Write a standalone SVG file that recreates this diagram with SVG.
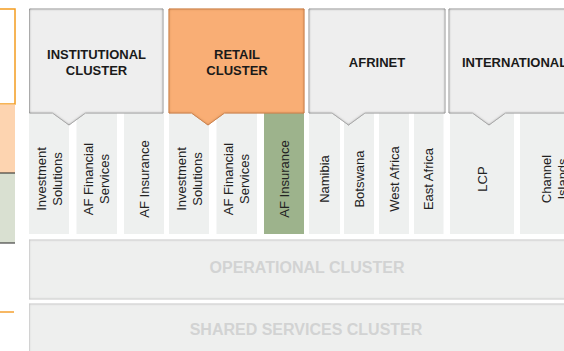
<svg xmlns="http://www.w3.org/2000/svg" width="564" height="351" viewBox="0 0 564 351">
  <defs>
    <style>
      .hdr { font-family: "Liberation Sans", Arial, sans-serif; font-weight: bold; font-size: 13px; fill: #1a1a1a; text-anchor: middle; }
      .lbl { font-family: "Liberation Sans", Arial, sans-serif; font-size: 13px; fill: #222; text-anchor: middle; }
      .ftr { font-family: "Liberation Sans", Arial, sans-serif; font-weight: bold; font-size: 16px; fill: #d2d3d3; text-anchor: middle; }
      .col { fill: #eef0ef; }
      .col-hi { fill: #9db38c; }
      .box { fill: #eeeeee; stroke: #c8c8c8; stroke-width: 1; }
      .box-hi { fill: #f9ae74; stroke: #dc945c; stroke-width: 1; }
      .band { fill: #eeefee; stroke: #dcdcdc; stroke-width: 1; }
    </style>
    <!-- inner bevel shadows -->
    <filter id="inset" x="-5%" y="-5%" width="110%" height="110%">
      <feFlood flood-color="#5f5f5f" result="c"/>
      <feComposite in="c" in2="SourceAlpha" operator="out" result="outside"/>
      <feGaussianBlur in="outside" stdDeviation="1.7" result="b"/>
      <feComposite in="b" in2="SourceAlpha" operator="in" result="shadow"/>
      <feComposite in="shadow" in2="SourceGraphic" operator="over"/>
    </filter>
    <filter id="inset-hi" x="-5%" y="-5%" width="110%" height="110%">
      <feFlood flood-color="#b0622a" result="c"/>
      <feComposite in="c" in2="SourceAlpha" operator="out" result="outside"/>
      <feGaussianBlur in="outside" stdDeviation="1.7" result="b"/>
      <feComposite in="b" in2="SourceAlpha" operator="in" result="shadow"/>
      <feComposite in="shadow" in2="SourceGraphic" operator="over"/>
    </filter>
    <filter id="inset-soft" x="-5%" y="-10%" width="110%" height="120%">
      <feFlood flood-color="#c0c0c0" result="c"/>
      <feComposite in="c" in2="SourceAlpha" operator="out" result="outside"/>
      <feGaussianBlur in="outside" stdDeviation="1.5" result="b"/>
      <feComposite in="b" in2="SourceAlpha" operator="in" result="shadow"/>
      <feComposite in="shadow" in2="SourceGraphic" operator="over"/>
    </filter>
  </defs>

  <rect width="564" height="351" fill="#ffffff"/>

  <!-- legend strip on the left edge -->
  <g id="legend">
    <rect x="-5" y="9" width="20" height="95" fill="#ffffff" stroke="#f39c1f" stroke-width="1.5"/>
    <rect x="0" y="104.5" width="15" height="68.5" fill="#fdd4b0"/>
    <rect x="0" y="173" width="15" height="70" fill="#d9e0d1"/>
    <line x1="0" y1="173" x2="15" y2="173" stroke="#222" stroke-width="1"/>
    <line x1="0" y1="243" x2="15" y2="243" stroke="#222" stroke-width="1"/>
    <line x1="0" y1="312" x2="14" y2="312" stroke="#f5a030" stroke-width="1.5"/>
  </g>

  <!-- business unit columns -->
  <g id="units">
    <g id="u-inst-invest"><rect class="col" x="29" y="113" width="40" height="121"/>
      <text class="lbl" transform="translate(49,179) rotate(-90)"><tspan x="0" y="-3.3">Investment</tspan><tspan x="0" y="12.7">Solutions</tspan></text></g>
    <g id="u-inst-afs"><rect class="col" x="76.5" y="113" width="40.5" height="121"/>
      <text class="lbl" transform="translate(96.75,179) rotate(-90)"><tspan x="0" y="-3.3">AF Financial</tspan><tspan x="0" y="12.7">Services</tspan></text></g>
    <g id="u-inst-afi"><rect class="col" x="124" y="113" width="40" height="121"/>
      <text class="lbl" transform="translate(144,179) rotate(-90)" y="4.7">AF Insurance</text></g>
    <g id="u-ret-invest"><rect class="col" x="169" y="113" width="40" height="121"/>
      <text class="lbl" transform="translate(189,179) rotate(-90)"><tspan x="0" y="-3.3">Investment</tspan><tspan x="0" y="12.7">Solutions</tspan></text></g>
    <g id="u-ret-afs"><rect class="col" x="216.5" y="113" width="40.5" height="121"/>
      <text class="lbl" transform="translate(236.75,179) rotate(-90)"><tspan x="0" y="-3.3">AF Financial</tspan><tspan x="0" y="12.7">Services</tspan></text></g>
    <g id="u-ret-afi"><rect class="col-hi" x="264" y="113" width="40" height="121"/>
      <text class="lbl" transform="translate(284,179) rotate(-90)" y="4.7">AF Insurance</text></g>
    <g id="u-namibia"><rect class="col" x="309" y="113" width="31" height="121"/>
      <text class="lbl" transform="translate(324.5,179) rotate(-90)" y="4.7">Namibia</text></g>
    <g id="u-botswana"><rect class="col" x="344" y="113" width="30" height="121"/>
      <text class="lbl" transform="translate(359,179) rotate(-90)" y="4.7">Botswana</text></g>
    <g id="u-west"><rect class="col" x="379" y="113" width="30" height="121"/>
      <text class="lbl" transform="translate(394,179) rotate(-90)" y="4.7">West Africa</text></g>
    <g id="u-east"><rect class="col" x="414" y="113" width="29.5" height="121"/>
      <text class="lbl" transform="translate(428.75,179) rotate(-90)" y="4.7">East Africa</text></g>
    <g id="u-lcp"><rect class="col" x="450" y="113" width="64" height="121"/>
      <text class="lbl" transform="translate(482,179) rotate(-90)" y="4.7">LCP</text></g>
    <g id="u-channel"><rect class="col" x="520" y="113" width="68" height="121"/>
      <text class="lbl" transform="translate(554.3,179) rotate(-90)"><tspan x="0" y="-3.3">Channel</tspan><tspan x="0" y="12.7">Islands</tspan></text></g>
  </g>

  <!-- cluster headers with pointers -->
  <g id="institutional">
    <path class="box" filter="url(#inset)" d="M29.5,9 H163 V113 H85.5 L69,125 L52.5,113 H29.5 Z"/>
    <text class="hdr" x="96.5" y="59">INSTITUTIONAL</text>
    <text class="hdr" x="96.5" y="75">CLUSTER</text>
  </g>
  <g id="retail">
    <path class="box-hi" filter="url(#inset-hi)" d="M169,9 H304 V113 H224.5 L208,125 L191.5,113 H169 Z"/>
    <text class="hdr" x="237" y="59">RETAIL</text>
    <text class="hdr" x="237" y="75">CLUSTER</text>
  </g>
  <g id="afrinet">
    <path class="box" filter="url(#inset)" d="M309,9 H445 V113 H365 L348.5,125 L332,113 H309 Z"/>
    <text class="hdr" x="377" y="67">AFRINET</text>
  </g>
  <g id="international">
    <path class="box" filter="url(#inset)" d="M449,9 H590 V113 H505.5 L489,125 L472.5,113 H449 Z"/>
    <text class="hdr" x="462" y="67" style="text-anchor:start">INTERNATIONAL</text>
  </g>

  <!-- support clusters -->
  <g id="operational">
    <rect class="band" filter="url(#inset-soft)" x="29.5" y="240" width="560" height="59"/>
    <text class="ftr" x="307" y="273">OPERATIONAL CLUSTER</text>
  </g>
  <g id="shared">
    <rect class="band" filter="url(#inset-soft)" x="29.5" y="304" width="560" height="60"/>
    <text class="ftr" x="306" y="335">SHARED SERVICES CLUSTER</text>
  </g>

  <g id="connectors"></g>
</svg>
